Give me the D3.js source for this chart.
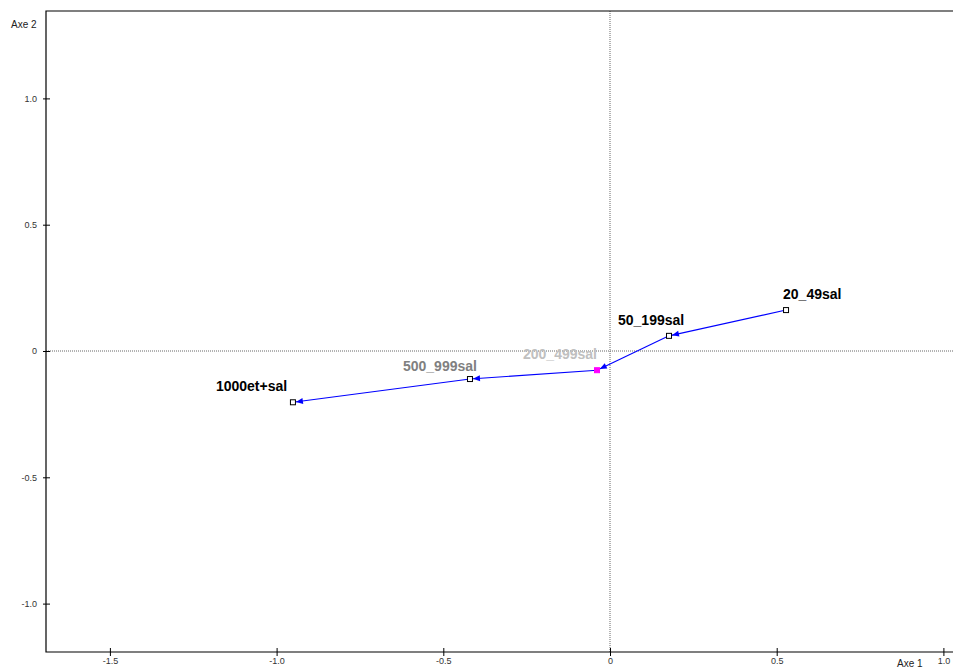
<!DOCTYPE html>
<html><head><meta charset="utf-8">
<script src="https://cdn.jsdelivr.net/npm/d3@7"></script>
<style>body{margin:0;background:#fff}svg{display:block;font-family:"Liberation Sans",Arial,sans-serif}</style>
</head><body>
<svg id="c" width="953" height="669"></svg>
<script>
const categories = ["20_49sal","50_199sal","200_499sal","500_999sal","1000et+sal"];
const axe1 = [0.528, 0.177, -0.039, -0.42, -0.951];
const axe2 = [0.162, 0.060, -0.076, -0.111, -0.203];
const xTicks = [-1.5, -1.0, -0.5, 0, 0.5, 1.0];
const yTicks = [-1.0, -0.5, 0, 0.5, 1.0];
const xTickLabels = ["-1.5","-1.0","-0.5","0","0.5","1.0"];
const yTickLabels = ["-1.0","-0.5","0","0.5","1.0"];
// layout/style
const labelColor = ["#000","#000","#c0c0c0","#808080","#000"];
const labelDx = [-3, -51, -74, -67, -77];
const labelDy = [-11, -11, -11, -8, -11];
const pointFill = ["#fff","#fff","#ff00ff","#fff","#fff"];
const pointStroke = ["#000","#000","#ff00ff","#000","#000"];

const svg = d3.select("#c");
const x = d3.scaleLinear().domain([0, 0.5]).range([610, 776.7]);
const y = d3.scaleLinear().domain([0, 0.5]).range([351, 224.7]);
const L = 46, T = 11, B = 652, R = 960;

// dotted zero lines
svg.append("line").attr("x1", x(0)).attr("x2", x(0)).attr("y1", T).attr("y2", B)
  .attr("stroke", "#666").attr("stroke-dasharray", "1,1").attr("stroke-width", 1);
svg.append("line").attr("x1", L).attr("x2", R).attr("y1", y(0)).attr("y2", y(0))
  .attr("stroke", "#666").attr("stroke-dasharray", "1,1").attr("stroke-width", 1);

// frame
svg.append("path").attr("d", `M${R},${T}H${L}V${B}H${R}`).attr("fill", "none")
  .attr("stroke", "#000").attr("stroke-width", 1.2);

// y axis ticks
const yAxis = d3.axisLeft(y).tickValues(yTicks).tickSize(4)
  .tickFormat((d, i) => yTickLabels[i]).tickPadding(6);
const gy = svg.append("g").attr("transform", `translate(${L},0)`).call(yAxis);
gy.select(".domain").remove();
gy.selectAll(".tick line").attr("x2", -3).attr("x1", 4).attr("stroke", "#000");
gy.selectAll(".tick text").attr("font-size", 9).attr("fill", "#333")
  .attr("font-family", "Liberation Sans, Arial, sans-serif").attr("x", -9);

const xAxis = d3.axisBottom(x).tickValues(xTicks).tickSize(4)
  .tickFormat((d, i) => xTickLabels[i]).tickPadding(5);
const gx = svg.append("g").attr("transform", `translate(0,${B})`).call(xAxis);
gx.select(".domain").remove();
gx.selectAll(".tick line").attr("y1", -4).attr("y2", 4).attr("stroke", "#000");
gx.selectAll(".tick text").attr("font-size", 9).attr("fill", "#333")
  .attr("font-family", "Liberation Sans, Arial, sans-serif").attr("y", 6);

svg.append("text").attr("x", 11).attr("y", 28).attr("font-size", 10).attr("fill", "#222").text("Axe 2");
svg.append("text").attr("x", 897).attr("y", 667).attr("font-size", 10).attr("fill", "#222").text("Axe 1");

// path segments + arrowheads
const pts = categories.map((c, i) => [x(axe1[i]), y(axe2[i])]);
const g = svg.append("g");
for (let i = 0; i < pts.length - 1; i++) {
  const [x0, y0] = pts[i], [x1, y1] = pts[i + 1];
  g.append("line").attr("x1", x0).attr("y1", y0).attr("x2", x1).attr("y2", y1)
    .attr("stroke", "#0000ff").attr("stroke-width", 1.1);
  const ang = Math.atan2(y1 - y0, x1 - x0);
  const tipOff = 3, len = 7, hw = 3;
  const tx = x1 - Math.cos(ang) * tipOff, ty = y1 - Math.sin(ang) * tipOff;
  const bx = tx - Math.cos(ang) * len, by = ty - Math.sin(ang) * len;
  const px = -Math.sin(ang) * hw, py = Math.cos(ang) * hw;
  g.append("path").attr("d", `M${tx},${ty}L${bx + px},${by + py}L${bx - px},${by - py}Z`)
    .attr("fill", "#0000ff");
}

// markers
svg.selectAll("rect.pt").data(categories).join("rect").attr("class", "pt")
  .attr("x", (d, i) => pts[i][0] - 2.5).attr("y", (d, i) => pts[i][1] - 2.5)
  .attr("width", 5).attr("height", 5)
  .attr("fill", (d, i) => pointFill[i]).attr("stroke", (d, i) => pointStroke[i]).attr("stroke-width", 1);

// labels
svg.selectAll("text.lbl").data(categories).join("text").attr("class", "lbl")
  .attr("x", (d, i) => pts[i][0] + labelDx[i]).attr("y", (d, i) => pts[i][1] + labelDy[i])
  .attr("font-size", 14).attr("font-weight", "bold").attr("fill", (d, i) => labelColor[i])
  .text(d => d);
</script>
</body></html>
